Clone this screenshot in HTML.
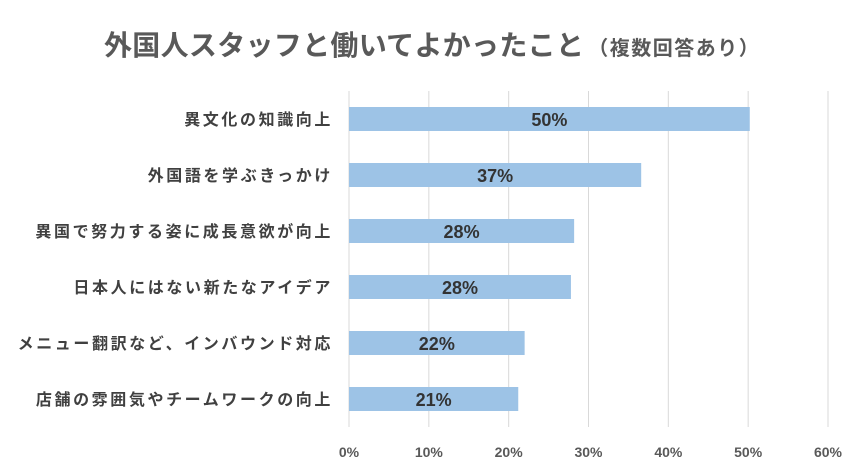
<!DOCTYPE html>
<html><head><meta charset="utf-8">
<style>
body{margin:0;background:#fff;}
svg{display:block;font-family:"Liberation Sans","Noto Sans CJK JP",sans-serif;}
</style></head>
<body>
<svg id="chart" width="865" height="475" viewBox="0 0 865 475">
<rect width="865" height="475" fill="#fff"/>
<text x="104" y="55" text-anchor="start" fill="#595959" font-weight="bold"><tspan font-size="28" letter-spacing="0.3">外国人スタッフと働いてよかったこと</tspan><tspan font-size="20" dx="4" letter-spacing="1.5">（複数回答あり）</tspan></text>
<g id="grid"></g>
<g id="bars"></g>
</svg>
<script>
const categories=["異文化の知識向上","外国語を学ぶきっかけ","異国で努力する姿に成長意欲が向上","日本人にはない新たなアイデア","メニュー翻訳など、インバウンド対応","店舗の雰囲気やチームワークの向上"];
const values=[50.2,36.6,28.2,27.8,22.0,21.2];
const valueLabels=["50%","37%","28%","28%","22%","21%"];
const tickValues=[0,10,20,30,40,50,60];
const tickLabels=["0%","10%","20%","30%","40%","50%","60%"];
const NS="http://www.w3.org/2000/svg";
const x0=349,x1=828,xmax=60,yTop=91,band=56,barH=24;
const xs=v=>x0+(x1-x0)*v/xmax;
const yc=i=>yTop+band*i+band/2;
const grid=document.getElementById('grid'),bars=document.getElementById('bars');
function mk(t,a,p){const e=document.createElementNS(NS,t);for(const k in a)e.setAttribute(k,a[k]);p.appendChild(e);return e;}
tickValues.forEach((t,i)=>{
 const l=mk('line',{x1:xs(t),x2:xs(t),y1:yTop,y2:427,stroke:'#d9d9d9','stroke-width':1},grid);
 
 
 const tx=mk('text',{x:xs(t),y:457,'text-anchor':'middle','font-size':14,'font-weight':'bold',fill:'#595959'},grid);
 tx.textContent=tickLabels[i];
 
 
});
categories.forEach((c,i)=>{
 const y=yc(i);
 const r=mk('rect',{x:x0,y:y-barH/2,width:xs(values[i])-x0,height:barH,fill:'#9dc3e6'},bars);
 
 
 const lb=mk('text',{x:333,y:y+6,'text-anchor':'end','font-size':16,'font-weight':'bold','letter-spacing':2.6,fill:'#404040'},bars);
 lb.textContent=c;
 
 
 const vl=mk('text',{x:(x0+xs(values[i]))/2,y:y+7,'text-anchor':'middle','font-size':18,'font-weight':'bold',fill:'#333'},bars);
 vl.textContent=valueLabels[i];
 
 
});
</script>
</body></html>
